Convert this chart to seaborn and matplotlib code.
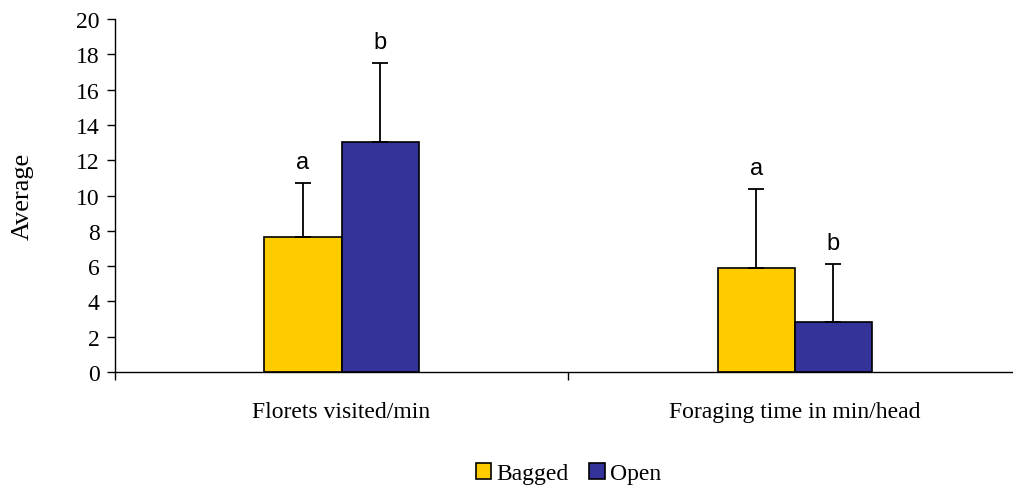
import matplotlib
matplotlib.use("Agg")
import matplotlib.pyplot as plt
import seaborn as sns
import pandas as pd
from matplotlib.patches import Patch

categories = ["Florets visited/min", "Foraging time in min/head"]
groups = ["Bagged", "Open"]
bagged_mean = [7.65, 5.9]
open_mean = [13.05, 2.85]
bagged_err = [3.05, 4.45]
open_err = [4.45, 3.25]
bagged_letters = ["a", "a"]
open_letters = ["b", "b"]
colors = ["#FFCC00", "#333399"]

df = pd.DataFrame({
    "cat": categories * 2,
    "group": [groups[0]] * 2 + [groups[1]] * 2,
    "val": bagged_mean + open_mean,
})

sns.set_style("white")
plt.rcParams["font.family"] = ["Liberation Serif", "DejaVu Serif"]
plt.rcParams["text.color"] = "black"
plt.rcParams["axes.labelcolor"] = "black"
plt.rcParams["xtick.color"] = "black"
plt.rcParams["ytick.color"] = "black"

fig = plt.figure(figsize=(10.13, 4.89), dpi=100)
ax = fig.add_axes([0.1135, 0.2372, 0.8865, 0.7219])

sns.barplot(data=df, x="cat", y="val", hue="group", order=categories,
            hue_order=groups, palette=colors, saturation=1, width=0.34,
            errorbar=None, edgecolor="black", linewidth=1.2, ax=ax,
            legend=False, gap=0)

errs = {groups[0]: bagged_err, groups[1]: open_err}
means = {groups[0]: bagged_mean, groups[1]: open_mean}
letters = {groups[0]: bagged_letters, groups[1]: open_letters}
bar_containers = list(ax.containers)[:len(groups)]
for gi, cont in enumerate(bar_containers):
    g = groups[gi]
    for ci, patch in enumerate(cont.patches):
        xc = patch.get_x() + patch.get_width() / 2
        m = means[g][ci]
        e = errs[g][ci]
        ax.errorbar([xc], [m], yerr=[[0], [e]], fmt="none", ecolor="black",
                    elinewidth=1.3, capsize=5.7, capthick=1.3, zorder=5)
        ax.text(xc, m + e + 0.6, letters[g][ci], ha="center", va="bottom",
                fontsize=17, color="black", family=["Liberation Sans", "DejaVu Sans"])

ax.set_xlim(-0.5, 1.482)
ax.set_ylim(0, 20)
ax.set_yticks(range(0, 21, 2))
ax.set_xticks([0, 1])
ax.set_xticklabels(categories)
ax.set_xticks([-0.5, 0.5], minor=True)
ax.tick_params(axis="x", which="major", length=0, pad=21, labelsize=17, labelcolor="black")
ax.tick_params(axis="x", which="minor", length=6, width=1, direction="out", color="black", bottom=True)
ax.tick_params(axis="y", length=6, width=1, direction="out", color="black", left=True,
               labelsize=17, pad=5, labelcolor="black")
ax.set_xlabel("")
ax.set_ylabel("Average", fontsize=19, color="black")
ax.yaxis.set_label_coords(-0.091, 0.5)

for s in ["top", "right"]:
    ax.spines[s].set_visible(False)
for s in ["left", "bottom"]:
    ax.spines[s].set_color("black")
    ax.spines[s].set_linewidth(1.0)

handles = [Patch(facecolor=c, edgecolor="black", linewidth=1.2) for c in colors]
fig.legend(handles, groups, loc="center", bbox_to_anchor=(0.561, 0.03), ncol=2,
           frameon=False, fontsize=17, handlelength=0.65, handleheight=0.65,
           handletextpad=0.2, columnspacing=0.9, borderpad=0, labelcolor="black")

fig.savefig("out.png", dpi=100)
